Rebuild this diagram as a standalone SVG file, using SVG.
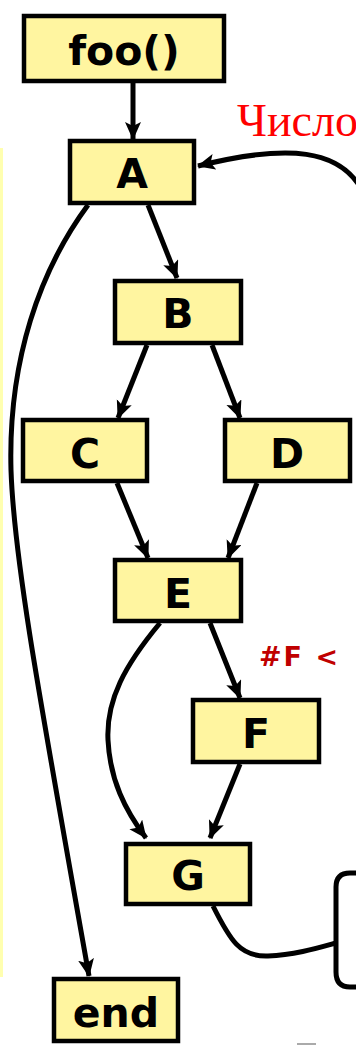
<svg xmlns="http://www.w3.org/2000/svg" width="356" height="1045" viewBox="0 0 356 1045">
<style>
.n{fill:#fff5a0;stroke:#000;stroke-width:4.5}
.t{font-family:"DejaVu Sans",sans-serif;font-weight:bold;font-size:41px;text-anchor:middle;fill:#000}
.e{fill:none;stroke:#000;stroke-width:5}
</style>
<defs>
<marker id="ah" markerUnits="userSpaceOnUse" markerWidth="20" markerHeight="18" refX="17" refY="8" orient="auto">
<path d="M0,0 L18,8 L0,16 L4,8 z" fill="#000"/>
</marker>
</defs>
<rect width="356" height="1045" fill="#fff"/>
<rect x="0" y="148" width="3" height="829" fill="#ffffb0"/>
<g id="connectors">
<path class="e" d="M133,83 L133,139" marker-end="url(#ah)"/>
<path class="e" d="M148,205 L177,278" marker-end="url(#ah)"/>
<path class="e" d="M147,345 L118,418" marker-end="url(#ah)"/>
<path class="e" d="M212,345 L240,418" marker-end="url(#ah)"/>
<path class="e" d="M117,483 L148,558" marker-end="url(#ah)"/>
<path class="e" d="M257,483 L228,558" marker-end="url(#ah)"/>
<path class="e" d="M210,623 L240,698" marker-end="url(#ah)"/>
<path class="e" d="M160,623 C125,665 106,700 108,740 C110,780 125,810 146,838" marker-end="url(#ah)"/>
<path class="e" d="M240,764 L210,838" marker-end="url(#ah)"/>
<path class="e" d="M88,205 C40,270 8,360 11,470 C14,560 40,700 89,976" marker-end="url(#ah)"/>
<path class="e" d="M362,190 C340,150 290,143 198,166" marker-end="url(#ah)"/>
<path class="e" d="M213,906 C230,940 240,957 268,956 C295,955 318,948 336,943"/>
<path class="e" d="M360,873 L350,873 Q336,873 336,887 L336,972 Q336,987 350,987 L360,987"/>
</g>
<g id="foo"><rect class="n" x="24" y="16" width="200" height="65"/><text class="t" x="124" y="65" font-size="44">foo()</text></g>
<g id="A"><rect class="n" x="70" y="141" width="124" height="62"/><text class="t" x="132" y="188">A</text></g>
<g id="B"><rect class="n" x="115" y="281" width="126" height="62"/><text class="t" x="178" y="328">B</text></g>
<g id="C"><rect class="n" x="23" y="420" width="124" height="61"/><text class="t" x="85" y="468">C</text></g>
<g id="D"><rect class="n" x="225" y="420" width="125" height="61"/><text class="t" x="287" y="468">D</text></g>
<g id="E"><rect class="n" x="115" y="560" width="126" height="61"/><text class="t" x="178" y="608">E</text></g>
<g id="F"><rect class="n" x="193" y="700" width="126" height="62"/><text class="t" x="256" y="748">F</text></g>
<g id="G"><rect class="n" x="126" y="844" width="124" height="60"/><text class="t" x="188" y="890">G</text></g>
<g id="end"><rect class="n" x="54" y="979" width="124" height="62"/><text class="t" x="116" y="1027">end</text></g>
<text x="237" y="136" font-family="Liberation Serif,serif" font-size="46" fill="#ff0000">Число</text>
<text x="259" y="666" font-family="DejaVu Sans,sans-serif" font-weight="bold" font-size="27" letter-spacing="2" fill="#c00000">#F &lt;</text>
<line x1="297" y1="1044" x2="316" y2="1044" stroke="#aaa" stroke-width="2"/>
</svg>
